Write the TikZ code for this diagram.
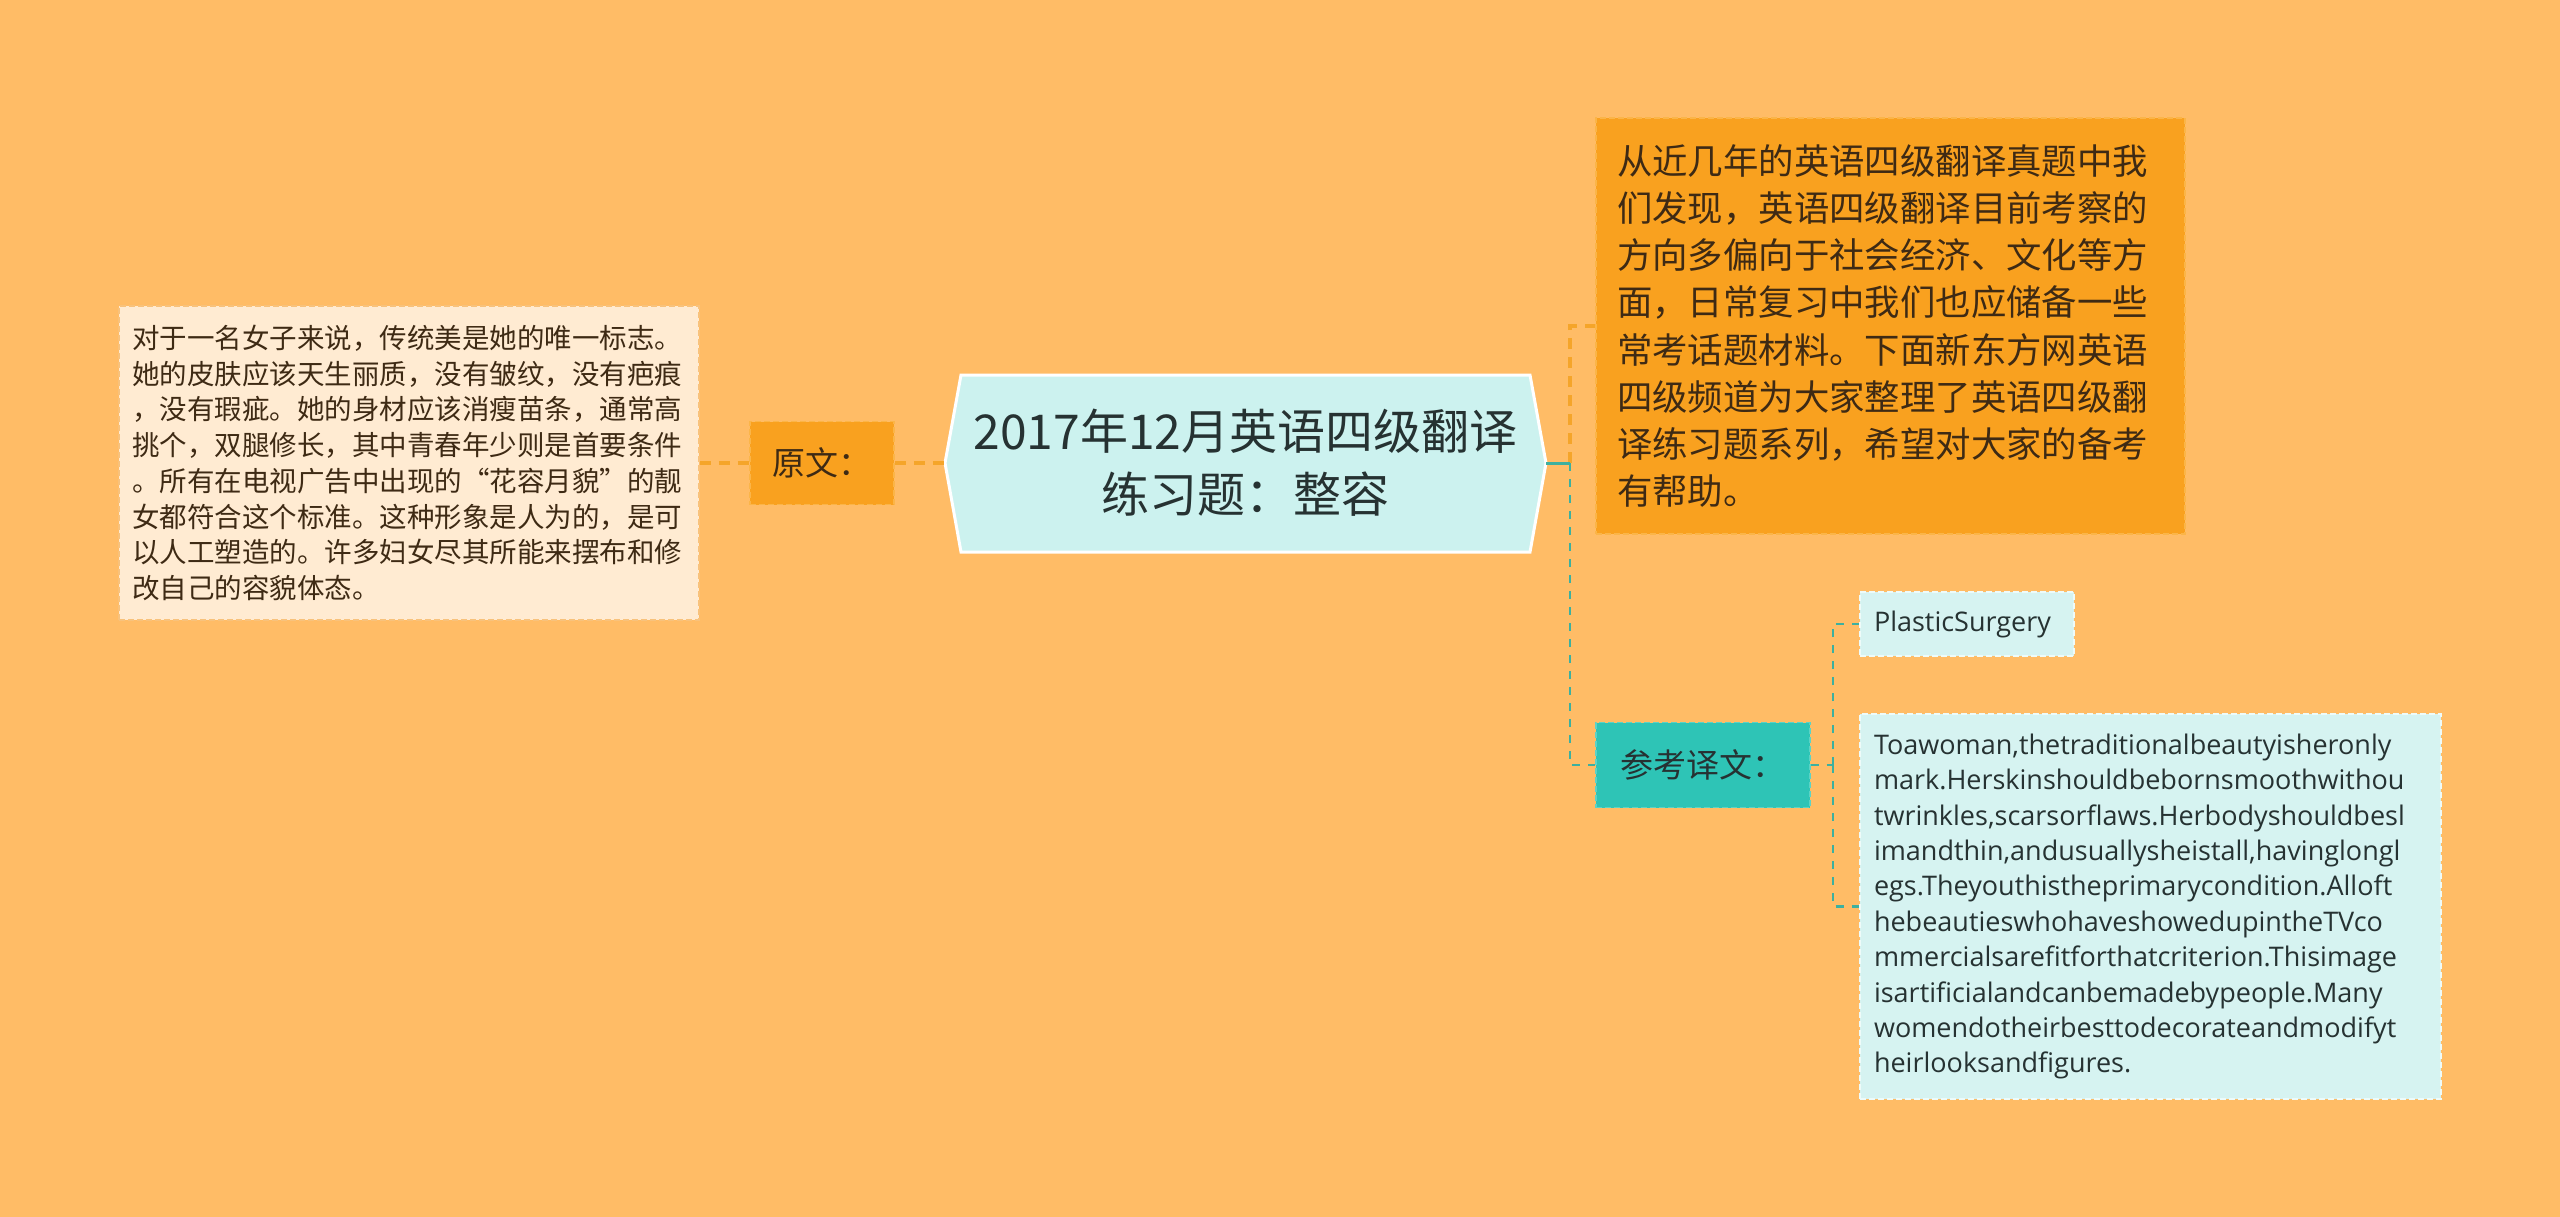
\documentclass[tikz,border=0pt]{standalone}
\usepackage{fontspec}
\setmainfont{Noto Sans CJK SC}
\newfontfamily\enfont{Open Sans}
\definecolor{bgorange}{HTML}{FFBC66}
\definecolor{creamfill}{HTML}{FFEBD2}
\definecolor{creamline}{HTML}{F8C27C}
\definecolor{orfill}{HTML}{F9A11F}
\definecolor{orline}{HTML}{FBB548}
\definecolor{tealfill}{HTML}{2EC4B6}
\definecolor{tealline}{HTML}{5CD3C6}
\definecolor{cyanfill}{HTML}{D6F3F1}
\definecolor{cyanline}{HTML}{EEFBF9}
\definecolor{rootfill}{HTML}{CCF2EF}
\definecolor{linkor}{HTML}{F5A52A}
\definecolor{linkteal}{HTML}{3DB09F}
\definecolor{txtbrown}{HTML}{3E2A14}
\definecolor{txtdark}{HTML}{263232}
\begin{document}
\begin{tikzpicture}[x=1pt,y=-1pt,
  box/.style={rectangle, inner ysep=0pt, align=left, line width=1.5pt, dash pattern=on 6pt off 3pt},
  orlink/.style={draw=linkor, line width=3.5pt, dash pattern=on 11pt off 8pt},
  teallink/.style={draw=linkteal, line width=2.5pt, dash pattern=on 8pt off 8pt}]
\fill[bgorange] (0,0) rectangle (2560,1217);
\useasboundingbox (0,0) rectangle (2560,1217);
% root
\filldraw[fill=rootfill, draw=white, line width=3pt] (945,463) -- (961,375) -- (1530,375) -- (1546,463) -- (1530,552) -- (961,552) -- cycle;
\node[align=center, inner sep=0pt, minimum width=601pt, minimum height=177pt, text=txtdark, font=\fontsize{48}{63}\selectfont] (root) at (1245.5,463) {2017年12月英语四级翻译\\练习题：整容};
% left side
\node[box, fill=orfill, draw=orline, minimum width=144pt, minimum height=83pt, inner xsep=0pt, align=center, text=txtbrown, font=\fontsize{33}{40}\selectfont] (yuanwen) at (822,463) {原文：};
\node[box, fill=creamfill, draw=creamline, minimum height=314pt, inner xsep=13pt, text width=554pt, text=txtbrown, font=\fontsize{27.5}{35.7}\selectfont] (orig) at (409,463) {对于一名女子来说，传统美是她的唯一标志。\\她的皮肤应该天生丽质，没有皱纹，没有疤痕\\，没有瑕疵。她的身材应该消瘦苗条，通常高\\挑个，双腿修长，其中青春年少则是首要条件\\。所有在电视广告中出现的“花容月貌”的靓\\女都符合这个标准。这种形象是人为的，是可\\以人工塑造的。许多妇女尽其所能来摆布和修\\改自己的容貌体态。};
% right side
\node[box, fill=orfill, draw=orline, minimum height=416pt, inner xsep=21pt, text width=547pt, text=txtbrown, font=\fontsize{35.4}{47.1}\selectfont] (intro) at (1890.5,326) {从近几年的英语四级翻译真题中我\\们发现，英语四级翻译目前考察的\\方向多偏向于社会经济、文化等方\\面，日常复习中我们也应储备一些\\常考话题材料。下面新东方网英语\\四级频道为大家整理了英语四级翻\\译练习题系列，希望对大家的备考\\有帮助。};
\node[box, fill=tealfill, draw=tealline, minimum width=214pt, minimum height=85pt, inner xsep=0pt, align=center, text=txtdark, font=\fontsize{33}{40}\selectfont] (cankao) at (1703,765) {参考译文：};
\node[box, fill=cyanfill, draw=cyanline, minimum height=64pt, inner xsep=14pt, text width=186pt, text=txtdark, font=\enfont\fontsize{27}{35.4}\selectfont] (plastic) at (1967,624) {PlasticSurgery};
\node[box, fill=cyanfill, draw=cyanline, minimum height=385pt, inner xsep=14pt, text width=553pt, text=txtdark, font=\enfont\fontsize{27}{35.4}\selectfont] (english) at (2150.5,906.5) {Toawoman,thetraditionalbeautyisheronly\\mark.Herskinshouldbebornsmoothwithou\\twrinkles,scarsorflaws.Herbodyshouldbesl\\imandthin,andusuallysheistall,havinglongl\\egs.Theyouthistheprimarycondition.Alloft\\hebeautieswhohaveshowedupintheTVco\\mmercialsarefitforthatcriterion.Thisimage\\isartificialandcanbemadebypeople.Many\\womendotheirbesttodecorateandmodifyt\\heirlooksandfigures.};
% links
\coordinate (fork) at (1570,463);
\coordinate (fork2) at (1833,765);
\draw[orlink] (orig.east) -- (yuanwen.west);
\draw[orlink] (yuanwen.east) -- (root.east -| root.west);
\draw[orlink] (fork) |- (intro.west);
\draw[teallink] (fork) |- (cankao.west);
\draw[draw=linkteal, line width=3pt] (root.east) -- (fork);
\draw[teallink] (cankao.east) -- (fork2);
\draw[teallink] (fork2) |- (plastic.west);
\draw[teallink] (fork2) |- (english.west);
\end{tikzpicture}
\end{document}
